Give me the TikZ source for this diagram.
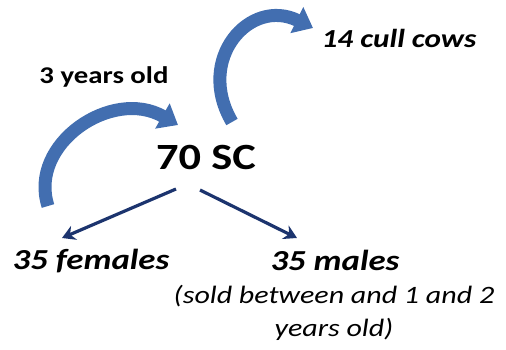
\documentclass[tikz,border=0pt]{standalone}
\usepackage{fontspec}
\setmainfont{Carlito}[FakeStretch=1.2]
\usetikzlibrary{arrows.meta}
\definecolor{curveblue}{RGB}{66,110,176}
\definecolor{navy}{RGB}{28,52,110}
\tikzset{
  lbl/.style={inner sep=0pt, text=black},
  curvearrow/.style={draw=curveblue, line width=13pt, -{Triangle[width=28pt,length=18pt]}},
  split/.style={draw=navy, line width=3.2pt, -{Stealth[width=15pt,length=13pt]}},
}
\begin{document}
\begin{tikzpicture}[x=1pt,y=1pt]
\useasboundingbox (0,0) rectangle (506,349);
\node[lbl, font=\fontsize{24}{28}\selectfont\bfseries] (age) at (104,272) {3 years old};
\node[lbl, font=\fontsize{37}{40}\selectfont\bfseries] (sc) at (206,192) {70 SC};
\node[lbl, font=\fontsize{26}{30}\selectfont\bfseries\itshape] (cull) at (399,311) {14 cull cows};
\node[lbl, font=\fontsize{29}{32}\selectfont\bfseries\itshape] (fem) at (91,88) {35 females};
\node[lbl, font=\fontsize{29}{32}\selectfont\bfseries\itshape] (mal) at (335,89) {35 males};
\node[lbl, font=\fontsize{25}{33}\selectfont\itshape, align=center] (sold) at (334,36) {(sold between and 1 and 2\\years old)};
\coordinate (lstart) at (48,143);
\coordinate (lend) at (178,224);
\coordinate (tstart) at (232,227);
\coordinate (tend) at (313,321);
\draw[curvearrow] (lstart) .. controls (28,205) and (112,262) .. (lend);
\draw[curvearrow] (tstart) .. controls (195,290) and (250,352) .. (tend);
\coordinate (sl) at (176,160);
\coordinate (sr) at (200,159);
\coordinate (fl) at (62,111);
\coordinate (ml) at (297,111);
\draw[split] (sl) -- (fl);
\draw[split] (sr) -- (ml);
\end{tikzpicture}
\end{document}
